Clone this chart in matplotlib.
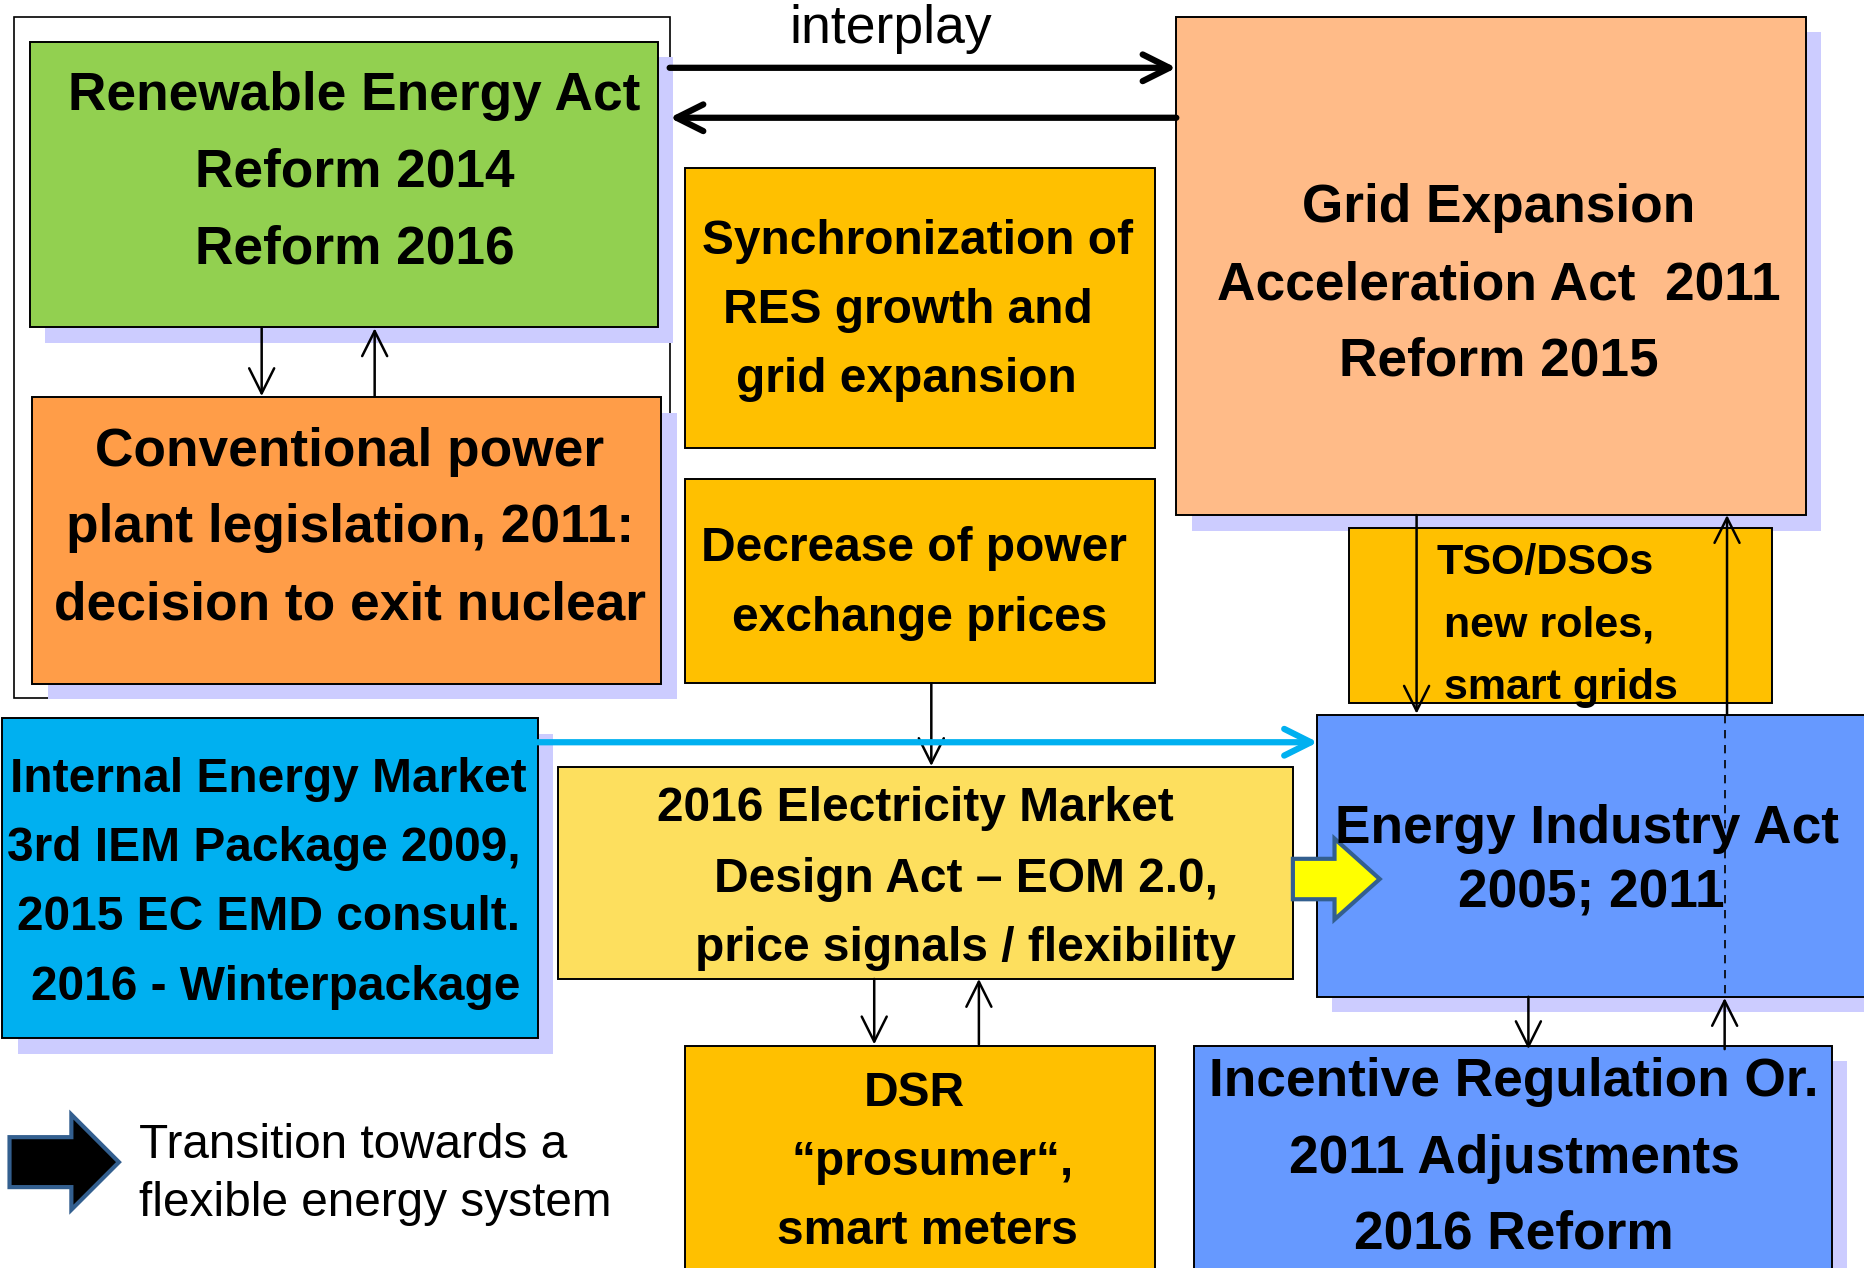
import matplotlib.pyplot as plt
import matplotlib.patches as mpatches
from matplotlib.patches import FancyArrowPatch

FONT = ['Liberation Sans', 'DejaVu Sans']

# boxes: name -> (x0, y0, x1, y1) in reference pixel units (1568 x 1066 canvas)
box_names = ['res', 'conv', 'sync', 'decr', 'grid', 'tso', 'eia', 'iem', 'emd', 'dsr', 'incr']
box_rects = [
    (25, 35, 553, 275),
    (27, 334, 556, 575),
    (576, 141, 971, 377),
    (576, 403, 971, 574),
    (989, 14, 1518, 433),
    (1134, 444, 1490, 591),
    (1107, 601, 1575, 838),
    (2, 604, 452, 873),
    (469, 645, 1087, 823),
    (576, 879, 971, 1080),
    (1004, 879, 1540, 1080),
]
box_colors = ['#92D050', '#FF9D48', '#FFC000', '#FFC000', '#FFBB88', '#FFC000',
              '#6699FF', '#00B0F0', '#FDDF5E', '#FFC000', '#6699FF']
box_shadow = [True, True, False, False, True, False, True, True, False, False, True]

# text lines: (x, y, text, size, ha)
labels = [
    (298, 81, 'Renewable Energy Act', 38.3, 'center'),
    (298, 145, 'Reform 2014', 38.3, 'center'),
    (298, 210, 'Reform 2016', 38.3, 'center'),
    (294, 380, 'Conventional power', 38.3, 'center'),
    (294, 444, 'plant legislation, 2011:', 38.3, 'center'),
    (294, 509, 'decision to exit nuclear', 38.3, 'center'),
    (771, 203, 'Synchronization of', 34.5, 'center'),
    (763, 261, 'RES growth and', 34.5, 'center'),
    (762, 319, 'grid expansion', 34.5, 'center'),
    (768, 461, 'Decrease of power', 34.5, 'center'),
    (773, 520, 'exchange prices', 34.5, 'center'),
    (1260, 175, 'Grid Expansion', 38.3, 'center'),
    (1260, 240, 'Acceleration Act  2011', 38.3, 'center'),
    (1260, 304, 'Reform 2015', 38.3, 'center'),
    (1208, 473, 'TSO/DSOs', 31, 'left'),
    (1214, 526, 'new roles,', 31, 'left'),
    (1214, 578, 'smart grids', 31, 'left'),
    (1334, 697, 'Energy Industry Act', 38.3, 'center'),
    (1338, 751, '2005; 2011', 38.3, 'center'),
    (226, 655, 'Internal Energy Market', 34.5, 'center'),
    (222, 713, '3rd IEM Package 2009,', 34.5, 'center'),
    (226, 771, '2015 EC EMD consult.', 34.5, 'center'),
    (232, 830, '2016 - Winterpackage', 34.5, 'center'),
    (770, 680, '2016 Electricity Market', 34.5, 'center'),
    (812, 739, 'Design Act \u2013 EOM 2.0,', 34.5, 'center'),
    (812, 797, 'price signals / flexibility', 34.5, 'center'),
    (769, 919, 'DSR', 34.5, 'center'),
    (784, 977, '\u201cprosumer\u201c,', 34.5, 'center'),
    (780, 1035, 'smart meters', 34.5, 'center'),
    (1273, 910, 'Incentive Regulation Or.', 38.3, 'center'),
    (1273, 974, '2011 Adjustments', 38.3, 'center'),
    (1273, 1038, '2016 Reform', 38.3, 'center'),
]

# connector arrows: (x0, y0, x1, y1, width, color)
arrows = [
    (563, 57, 989, 57, 4.5, 'black'),
    (989, 99, 563, 99, 4.5, 'black'),
    (220, 276, 220, 333, 1.8, 'black'),
    (315, 333, 315, 276, 1.8, 'black'),
    (783, 575, 783, 644, 1.8, 'black'),
    (1191, 433, 1191, 600, 1.8, 'black'),
    (1452, 601, 1452, 433, 1.8, 'black'),
    (735, 823, 735, 878, 1.8, 'black'),
    (823, 878, 823, 823, 1.8, 'black'),
    (1285, 838, 1285, 882, 1.8, 'black'),
    (1450, 882, 1450, 839, 1.8, 'black'),
    (452, 624, 1108, 624, 4.5, '#00B0F0'),
]

fig = plt.figure(figsize=(18.65, 12.68), dpi=100)
ax = fig.add_axes([0, 0, 1, 1])
ax.set_xlim(0, 1568)
ax.set_ylim(1066, 0)
ax.axis('off')

# outer frame around the renewable / conventional group
ax.add_patch(mpatches.Rectangle((12, 14), 551, 573, fc='white', ec='black', lw=1.2, zorder=0.5))

for name, (x0, y0, x1, y1), c, sh in zip(box_names, box_rects, box_colors, box_shadow):
    if sh:
        ax.add_patch(mpatches.Rectangle((x0 + 13, y0 + 13), x1 - x0, y1 - y0,
                                        fc='#CCCCFF', ec='none', zorder=1))
    ax.add_patch(mpatches.Rectangle((x0, y0), x1 - x0, y1 - y0, fc=c, ec='black',
                                    lw=1.4, zorder=2))

# dashed line inside Energy Industry Act box
ax.plot([1450, 1450], [601, 838], color='black', lw=1.2, ls=(0, (5, 4)), zorder=3)

for x0, y0, x1, y1, w, c in arrows:
    ax.add_patch(FancyArrowPatch((x0, y0), (x1, y1), arrowstyle='->,head_length=0.6,head_width=0.3',
                                 mutation_scale=32 if w > 3 else 30, lw=w, color=c,
                                 shrinkA=0, shrinkB=0, zorder=4))

ax.text(749, 24, 'interplay', fontsize=38.5, ha='center', va='center', family=FONT, zorder=5)

for x, y, t, s, ha in labels:
    ax.text(x, y, t, fontsize=s, fontweight='bold', ha=ha, va='center', family=FONT, zorder=5)

# block arrows: yellow one into Energy Industry Act, black one in the legend
ax.add_patch(mpatches.FancyArrow(1087, 739, 73, 0, width=34, head_width=68, head_length=38,
                                 length_includes_head=True, fc='#FFFF00', ec='#335F8F', lw=3, zorder=3))
ax.add_patch(mpatches.FancyArrow(8, 977, 92, 0, width=42, head_width=80, head_length=40,
                                 length_includes_head=True, fc='black', ec='#335F8F', lw=3, zorder=3))
ax.text(117, 963, 'Transition towards a', fontsize=34.4, ha='left', va='center', family=FONT)
ax.text(117, 1012, 'flexible energy system', fontsize=34.4, ha='left', va='center', family=FONT)

fig.savefig('out.png', dpi=100)
